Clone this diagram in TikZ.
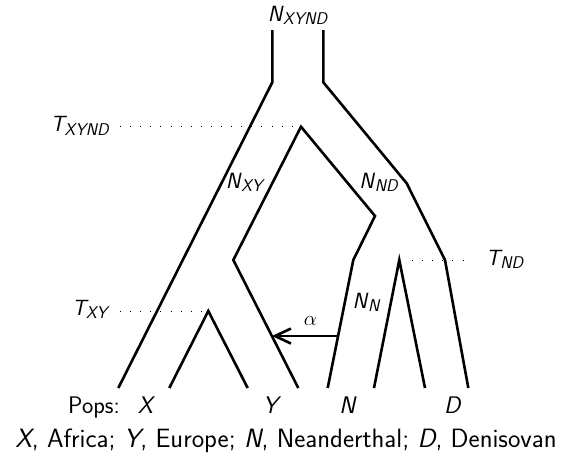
\documentclass[tikz,border=0pt]{standalone}
\usepackage{amsmath}
\usepackage{tikz}
\usetikzlibrary{arrows.meta, calc}

\newcommand{\pv}[1]{\textit{#1}}
\newcommand{\lab}[3][-0.5pt]{\pv{#2}\kern#1\raisebox{-3.8pt}{\fontsize{17}{17}\selectfont\pv{#3}}}

\begin{document}
\begin{tikzpicture}[x=1pt, y=-1pt,
  branch/.style={line width=2.6pt, line join=miter},
  guide/.style={line width=0.9pt, dash pattern=on 0.9pt off 9.2pt},
  lbl/.style={font=\fontsize{22}{25}\selectfont\sffamily, inner sep=0pt},
  pop/.style={font=\fontsize{24}{28}\selectfont\sffamily, inner sep=0pt, anchor=base},
  mig/.style={line width=2.6pt, -{Straight Barb[length=16pt, width=15pt, line width=2.6pt]}}
]
\useasboundingbox (0,0) rectangle (574,453);

% Tree points (root, ancestral split, population tips)
\coordinate (rootl) at (272.3,30);   \coordinate (rootr) at (323.3,30);
\coordinate (kneel) at (272.3,82.3); \coordinate (kneer) at (323.3,82.3);
\coordinate (bendnd) at (406.7,183.3);
\coordinate (bendd)  at (445,260);
\coordinate (apex)   at (301,126.7);
\coordinate (bendy)  at (233.3,260);
\coordinate (bendn1) at (375,216);
\coordinate (bendn2) at (353.3,260);
\coordinate (apexxy) at (208.3,311);
\coordinate (apexnd) at (399.3,260);
\coordinate (tipx1) at (118.3,388);  \coordinate (tipx2) at (169.3,388);
\coordinate (tipy1) at (247.7,388);  \coordinate (tipy2) at (298.3,388);
\coordinate (tipn1) at (327.7,388);  \coordinate (tipn2) at (374,388);
\coordinate (tipd1) at (425,388);    \coordinate (tipd2) at (468.3,388);

% Split times
\node[lbl, anchor=base east] (txynd) at (110,131.7) {\lab[-2.5pt]{T}{XYND}};
\node[lbl, anchor=base east] (txy)   at (110,315)   {\lab[-2.5pt]{T}{XY}};
\node[lbl, anchor=base west] (tnd)   at (486,265)   {\lab[-2.5pt]{T}{ND}};
\draw[guide] (120,126.7) -- (apex -| 292,0);
\draw[guide] (120,311) -- (apexxy -| 204,0);
\draw[guide] (apexnd -| 412,0) -- (470,260);

% Branch outlines
\draw[branch] (rootl) -- (kneel) -- (tipx1);
\draw[branch] (rootr) -- (kneer) -- (bendnd) -- (bendd) -- (tipd2);
\draw[branch] (tipy2) -- (bendy) -- (apex) -- (bendn1) -- (bendn2) -- (tipn1);
\draw[branch] (tipx2) -- (apexxy) -- (tipy1);
\draw[branch] (tipn2) -- (apexnd) -- (tipd1);

% Admixture pulse
\coordinate (fromn) at ($(bendn2)!0.594!(tipn1)$);
\coordinate (toy)   at ($(bendy)!0.594!(tipy2)$);
\draw[mig] (fromn) -- (toy);
\node[lbl, anchor=base] (alpha) at (310.5,325) {$\alpha$};

% Population sizes
\node[lbl, anchor=base] (nxynd) at (298,21)    {\lab{N}{XYND}};
\node[lbl, anchor=base] (nxy)   at (245.5,188) {\lab{N}{XY}};
\node[lbl, anchor=base] (nnd)   at (379,188)   {\lab{N}{ND}};
\node[lbl, anchor=base] (nn)    at (366.5,308) {\lab{N}{N}};

% Populations and key
\node[pop, anchor=base east] (pops) at (120,413) {Pops:};
\node[pop] (popx) at (146.5,413) {\pv{X}};
\node[pop] (popy) at (272,413)   {\pv{Y}};
\node[pop] (popn) at (348,413)   {\pv{N}};
\node[pop] (popd) at (453,413)   {\pv{D}};
\node[pop, font=\fontsize{26.5}{30}\selectfont\sffamily] (key) at (286,447)
  {\pv{X}, Africa; \pv{Y}, Europe; \pv{N}, Neanderthal; \pv{D}, Denisovan};
\end{tikzpicture}
\end{document}
